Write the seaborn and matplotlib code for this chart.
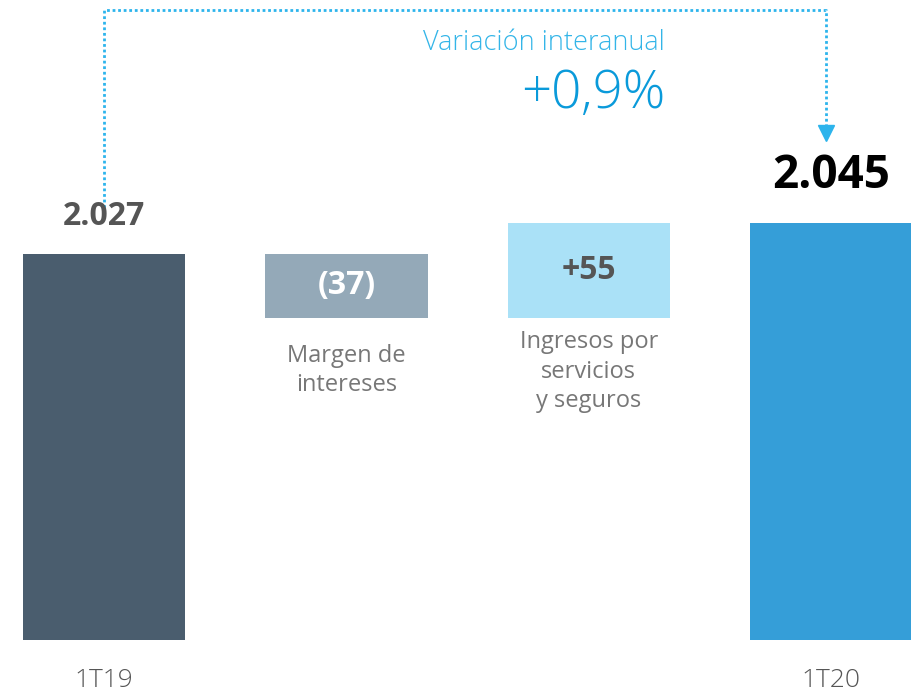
import matplotlib
matplotlib.use("Agg")
import matplotlib.pyplot as plt
import numpy as np
import pandas as pd
import seaborn as sns

### Data
categories = ["1T19", "Margen", "Ingresos", "1T20"]
tick_labels = ["1T19", "", "", "1T20"]
step_labels = ["", "Margen de\nintereses", "Ingresos por\nservicios\ny seguros", ""]
start_value = 2027
deltas = [-37, 55]
end_value = 2045
variation_label = "+0,9%"
bar_colors = ["#4A5D6E", "#94A9B8", "#AAE1F7", "#359ED8"]

# waterfall geometry from the values
heights = [start_value]
bottoms = [0]
running = start_value
for d in deltas:
    bottoms.append(min(running, running + d))
    heights.append(abs(d))
    running += d
heights.append(end_value)
bottoms.append(0)

df = pd.DataFrame({"cat": categories, "height": heights, "bottom": bottoms})

sns.set_theme(style="white")
plt.rcParams['font.family'] = ['Open Sans', 'DejaVu Sans']

fig = plt.figure(figsize=(9.12, 7.0), dpi=100)
ax = fig.add_axes([0, 60 / 700, 1, 640 / 700])

sns.barplot(data=df, x="cat", y="height", order=categories, bottom=df["bottom"].values,
            width=0.67, ax=ax, errorbar=None, color=bar_colors[0], saturation=1)
for patch, c in zip(ax.patches, bar_colors):
    patch.set_facecolor(c)
    patch.set_edgecolor("none")

ax.set_xlim(-0.429, 3.334)
ax.set_ylim(1802.6, 2174.7)
sns.despine(ax=ax, left=True, bottom=True)
ax.set_yticks([])
ax.set_xlabel("")
ax.set_ylabel("")
ax.set_xticks(range(len(categories)))
ax.set_xticklabels(tick_labels, fontsize=19, color="#555555", fontweight="light")
ax.tick_params(axis="x", length=0, pad=20)


def fmt(v):
    return f"{v:,}".replace(",", ".")


# totals above the end bars
ax.annotate(fmt(start_value), (0, start_value), xytext=(0, 15), textcoords="offset points",
            ha="center", va="bottom", fontsize=23, fontweight="bold", color="#555555")
ax.annotate(fmt(end_value), (3, end_value), xytext=(0, 17), textcoords="offset points",
            ha="center", va="bottom", fontsize=33, fontweight="bold", color="#000000")

# step values and labels
step_text_colors = ["white", "#555555"]
label_offsets = [-19, -9]
for i, d in enumerate(deltas, start=1):
    txt = f"({abs(d)})" if d < 0 else f"+{d}"
    ax.text(i, bottoms[i] + heights[i] / 2, txt, ha="center", va="center",
            fontsize=23, fontweight="bold", color=step_text_colors[i - 1])
    ax.annotate(step_labels[i], (i, bottoms[i]), xytext=(0, label_offsets[i - 1]),
                textcoords="offset points", ha="center", va="top", fontsize=17,
                color="#777777", linespacing=1.3)

# dotted bracket with arrow
px = (2174.7 - 1802.6) / 640
top_y = 2174.7 - 10 * px
left_y = start_value + 41 * px
tip_y = end_value + 90 * px
arrow_x = 3 - 5 / 242.3
line_color = "#2DB4EC"
ax.plot([0, 0, arrow_x, arrow_x], [left_y, top_y, top_y, tip_y + 6 * px],
        color=line_color, lw=2, linestyle=(0, (1, 1)), solid_capstyle="butt", clip_on=False)
ax.plot([arrow_x], [tip_y], marker="v", markersize=11, color=line_color, clip_on=False)

ax.text(2.315, 2174.7 - 43 * px, "Variación interanual", ha="right", va="center",
        fontsize=19.5, color="#33B5E8", fontweight="light")
ax.text(2.315, 2174.7 - 94 * px, variation_label, ha="right", va="center",
        fontsize=38, color="#0A9ADA", fontweight="light")

plt.savefig("out.png", dpi=100, facecolor="white")
plt.close()
